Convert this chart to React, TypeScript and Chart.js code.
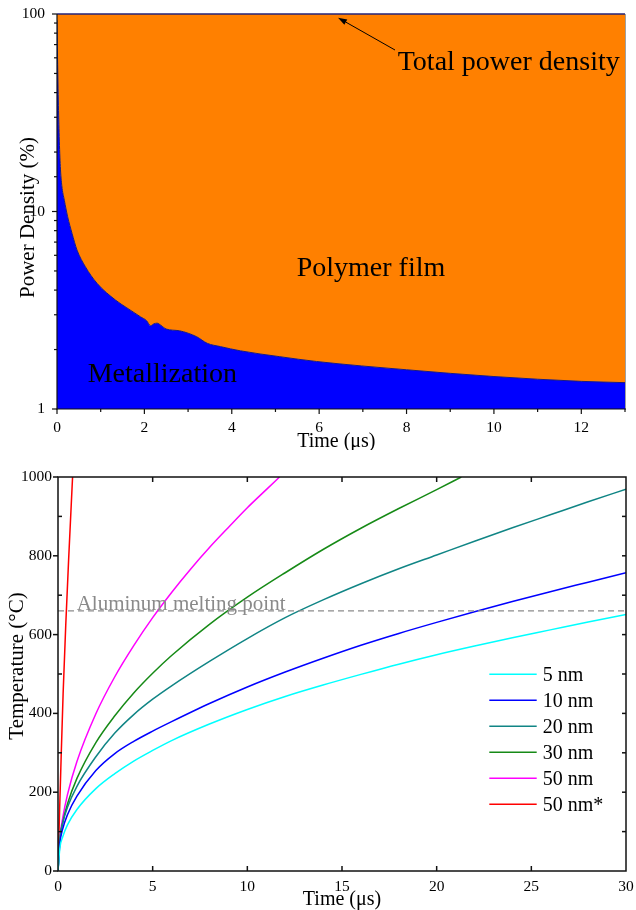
import React, { useEffect, useRef } from 'react';
import { Chart, registerables } from 'chart.js';

Chart.register(...registerables);

const SERIF = "'Liberation Serif', 'Times New Roman', serif";

// ---------- Top panel: power density (%) vs time (µs) ----------
const powerTime = [0, 0.01, 0.03, 0.05, 0.076, 0.11, 0.168, 0.244, 0.344, 0.458, 0.65, 0.916, 1.34, 1.6, 1.91, 2.05, 2.14, 2.22, 2.29, 2.38, 2.5, 2.8, 3.0, 3.2, 3.44, 3.74, 4.2, 5.1, 5.94, 8, 10, 12, 13];
const metallizationPower = [93, 65, 36.7, 24, 16.9, 13.5, 11.4, 9.4, 7.75, 6.38, 5.25, 4.33, 3.56, 3.25, 2.93, 2.8, 2.64, 2.7, 2.72, 2.65, 2.54, 2.49, 2.42, 2.32, 2.15, 2.07, 1.97, 1.84, 1.74, 1.58, 1.46, 1.38, 1.36];
const totalTime = [0, 13];
const totalPower = [100, 100];
const powerXMin = 0;
const powerXMax = 13;
const powerYMin = 1;
const powerYMax = 100;
const powerYLabels = [1, 10, 100];

// ---------- Bottom panel: temperature (°C) vs time (µs) ----------
const time5nm = [0, 0.1, 0.25, 0.5, 1, 2, 3, 4, 5, 6, 8, 10, 12, 14, 16, 18, 20, 22, 24, 26, 28, 30];
const temp5nm = [0, 59, 87, 117, 156, 209, 247, 279, 306, 331, 373, 410, 443, 472, 499, 525, 549, 571, 592, 612, 632, 651];
const time10nm = [0, 0.1, 0.25, 0.5, 1, 2, 3, 4, 5, 6, 8, 10, 12, 14, 16, 18, 20, 22, 24, 26, 28, 30];
const temp10nm = [0, 70, 107, 143, 190, 255, 298, 329, 355, 379, 425, 467, 505, 540, 573, 603, 631, 658, 684, 709, 733, 757];
const time20nm = [0, 0.1, 0.25, 0.5, 1, 2, 3, 4, 5, 6, 8, 10, 12, 14, 16, 18, 20, 22, 24, 26, 28, 30];
const temp20nm = [0, 82, 122, 162, 215, 290, 350, 397, 436, 470, 532, 590, 643, 688, 729, 767, 802, 837, 871, 904, 937, 969];
const time30nm = [0, 0.1, 0.25, 0.5, 1, 2, 3, 4, 5, 6, 8, 10, 12, 14, 16, 18, 20, 21.3];
const temp30nm = [0, 80, 123, 170, 235, 326, 394, 452, 502, 547, 626, 695, 757, 816, 870, 920, 968, 1000];
const time50nm = [0, 0.1, 0.25, 0.5, 1, 2, 3, 4, 5, 6, 7, 8, 9, 10, 11, 11.7];
const temp50nm = [0, 84, 135, 194, 278, 399, 493, 572, 643, 707, 766, 821, 872, 922, 968, 1000];
const time50nmStar = [0, 0.03, 0.06, 0.15, 0.27, 0.41, 0.56, 0.77];
const temp50nmStar = [0, 60, 112, 262, 450, 625, 789, 1000];
const meltingTime = [0, 30];
const meltingTemp = [660, 660];

const seriesLabels = ['5 nm', '10 nm', '20 nm', '30 nm', '50 nm', '50 nm*'];
const seriesColors = ['#00FFFF', '#0000FF', '#108585', '#168A16', '#FF00FF', '#FF0000'];
const seriesTimes = [time5nm, time10nm, time20nm, time30nm, time50nm, time50nmStar];
const seriesTemps = [temp5nm, temp10nm, temp20nm, temp30nm, temp50nm, temp50nmStar];

function pts(xs: number[], ys: number[]) {
  return xs.map((x, i) => ({ x, y: ys[i] }));
}

function seg(ctx: CanvasRenderingContext2D, x1: number, y1: number, x2: number, y2: number) {
  ctx.beginPath();
  ctx.moveTo(x1, y1);
  ctx.lineTo(x2, y2);
  ctx.stroke();
}

const noPadY = (w: number) => (s: any) => {
  s.width = w;
  s.paddingTop = 0;
  s.paddingBottom = 0;
};
const noPadX = (h: number) => (s: any) => {
  s.height = h;
  s.paddingLeft = 0;
  s.paddingRight = 0;
};

const topDecor = {
  id: 'topDecor',
  afterDatasetsDraw(chart: any) {
    const { ctx, chartArea: a, scales } = chart;
    const xs = scales.x;
    const ys = scales.y;
    ctx.save();
    ctx.strokeStyle = '#a0a0a0';
    ctx.lineWidth = 1;
    seg(ctx, a.right + 0.5, a.top, a.right + 0.5, a.bottom);
    ctx.strokeStyle = '#111';
    ctx.lineWidth = 1.2;
    seg(ctx, a.left, a.top, a.left, a.bottom + 0.6);
    seg(ctx, a.left - 0.6, a.bottom, a.right + 1, a.bottom);
    xs.ticks.forEach((t: any) => {
      const px = xs.getPixelForValue(t.value);
      const len = t.value % 2 === 0 ? 5 : 3;
      seg(ctx, px, a.bottom, px, a.bottom + len);
    });
    ys.ticks.forEach((t: any) => {
      const py = ys.getPixelForValue(t.value);
      const lg = Math.log10(t.value);
      const len = Math.abs(lg - Math.round(lg)) < 1e-9 ? 5 : 3;
      seg(ctx, a.left - len, py, a.left, py);
    });
    ctx.fillStyle = '#000';
    ctx.textAlign = 'left';
    ctx.textBaseline = 'alphabetic';
    ctx.font = `28px ${SERIF}`;
    ctx.fillText('Total power density', 397.7, 70);
    ctx.fillText('Polymer film', 296.7, 276);
    ctx.fillText('Metallization', 87.7, 382.3);
    const x1 = 395, y1 = 50, x2 = 338, y2 = 17.7;
    ctx.lineWidth = 1;
    ctx.strokeStyle = '#000';
    const ang = Math.atan2(y2 - y1, x2 - x1);
    const hl = 9, hw = 3;
    const bx = x2 - hl * Math.cos(ang), by = y2 - hl * Math.sin(ang);
    seg(ctx, x1, y1, bx, by);
    ctx.beginPath();
    ctx.moveTo(x2, y2);
    ctx.lineTo(bx + hw * Math.sin(ang), by - hw * Math.cos(ang));
    ctx.lineTo(bx - hw * Math.sin(ang), by + hw * Math.cos(ang));
    ctx.closePath();
    ctx.fill();
    ctx.font = `20px ${SERIF}`;
    ctx.textAlign = 'center';
    ctx.fillText('Time (μs)', 336.3, 446.5);
    ctx.save();
    ctx.translate(33.5, 217.5);
    ctx.rotate(-Math.PI / 2);
    ctx.font = `21px ${SERIF}`;
    ctx.fillText('Power Density (%)', 0, 0);
    ctx.restore();
    ctx.restore();
  },
};

const bottomDecor = {
  id: 'bottomDecor',
  afterDatasetsDraw(chart: any) {
    const { ctx, chartArea: a, scales } = chart;
    const xs = scales.x;
    const ys = scales.y;
    ctx.save();
    ctx.strokeStyle = '#111';
    ctx.lineWidth = 1.5;
    ctx.strokeRect(a.left, a.top, a.right - a.left, a.bottom - a.top);
    xs.ticks.forEach((t: any) => {
      if (t.value === 0 || t.value === 30) return;
      const px = xs.getPixelForValue(t.value);
      seg(ctx, px, a.bottom, px, a.bottom - 5);
      seg(ctx, px, a.top, px, a.top + 5);
    });
    ys.ticks.forEach((t: any) => {
      const py = ys.getPixelForValue(t.value);
      if (t.value % 200 === 0) {
        seg(ctx, a.left - 5, py, a.left, py);
      } else {
        seg(ctx, a.left, py, a.left + 4, py);
      }
      if (t.value !== 0 && t.value !== 1000) seg(ctx, a.right - 4, py, a.right, py);
    });
    const my = ys.getPixelForValue(meltingTemp[0]);
    ctx.fillStyle = '#8a8a8a';
    ctx.font = `21px ${SERIF}`;
    ctx.textAlign = 'left';
    ctx.textBaseline = 'alphabetic';
    ctx.fillText('Aluminum melting point', 76.7, my - 0.5);
    ctx.font = `20px ${SERIF}`;
    ctx.textBaseline = 'middle';
    ctx.fillStyle = '#000';
    seriesLabels.forEach((lab, i) => {
      const y = 224.3 + i * 26;
      ctx.strokeStyle = seriesColors[i];
      ctx.lineWidth = 1.5;
      seg(ctx, 489.3, y, 536.7, y);
      ctx.fillText(lab, 542.7, y + 1);
    });
    ctx.textBaseline = 'alphabetic';
    ctx.textAlign = 'center';
    ctx.font = `20px ${SERIF}`;
    ctx.fillText('Time (μs)', 342, 455);
    ctx.save();
    ctx.translate(22.7, 216);
    ctx.rotate(-Math.PI / 2);
    ctx.font = `21px ${SERIF}`;
    ctx.fillText('Temperature (°C)', 0, 0);
    ctx.restore();
    ctx.restore();
  },
};

function TopChart() {
  const ref = useRef<HTMLCanvasElement>(null);
  useEffect(() => {
    if (!ref.current) return;
    const chart = new Chart(ref.current, {
      type: 'line',
      data: {
        datasets: [
          {
            label: 'Total power density',
            data: pts(totalTime, totalPower),
            borderColor: '#23237a',
            borderWidth: 1.5,
            pointRadius: 0,
            fill: false,
            clip: false,
          } as any,
          {
            label: 'Metallization',
            data: pts(powerTime, metallizationPower),
            borderColor: '#1a1a80',
            borderWidth: 1,
            backgroundColor: '#0000FF',
            pointRadius: 0,
            fill: 'start',
            cubicInterpolationMode: 'monotone',
          },
          {
            label: 'Polymer film',
            data: pts(powerTime, metallizationPower),
            borderWidth: 0,
            borderColor: 'rgba(0,0,0,0)',
            backgroundColor: '#FF8000',
            pointRadius: 0,
            fill: 'end',
            cubicInterpolationMode: 'monotone',
          },
        ],
      },
      options: {
        responsive: false,
        animation: false,
        events: [],
        layout: { padding: { left: 0, right: 11, top: 14, bottom: 0 } },
        plugins: { legend: { display: false }, tooltip: { enabled: false } },
        scales: {
          x: {
            type: 'linear',
            min: powerXMin,
            max: powerXMax,
            grid: { display: false, drawTicks: false },
            border: { display: false },
            afterFit: noPadX(41),
            ticks: {
              stepSize: 1,
              autoSkip: false,
              maxRotation: 0,
              padding: 10,
              color: '#000',
              font: { family: SERIF, size: 15.5 },
              callback: (v: any) => (Number(v) % 2 === 0 ? String(v) : ''),
            },
          },
          y: {
            type: 'logarithmic',
            min: powerYMin,
            max: powerYMax,
            grid: { display: false, drawTicks: false },
            border: { display: false },
            afterFit: noPadY(57),
            ticks: {
              autoSkip: false,
              padding: 12,
              color: '#000',
              font: { family: SERIF, size: 15.5 },
              callback: (v: any) => (powerYLabels.includes(Number(v)) ? String(v) : ''),
            },
          },
        },
      },
      plugins: [topDecor],
    } as any);
    return () => chart.destroy();
  }, []);
  return <canvas ref={ref} width={636} height={450} style={{ display: 'block' }} />;
}

function BottomChart() {
  const ref = useRef<HTMLCanvasElement>(null);
  useEffect(() => {
    if (!ref.current) return;
    const datasets: any[] = [
      {
        label: '',
        data: pts(meltingTime, meltingTemp),
        borderColor: '#8c8c8c',
        borderWidth: 1.2,
        borderDash: [6, 4],
        pointRadius: 0,
        fill: false,
      },
    ];
    seriesLabels.forEach((lab, i) => {
      datasets.push({
        label: lab,
        data: pts(seriesTimes[i], seriesTemps[i]),
        borderColor: seriesColors[i],
        borderWidth: 1.5,
        pointRadius: 0,
        fill: false,
        cubicInterpolationMode: 'monotone',
      });
    });
    const chart = new Chart(ref.current, {
      type: 'line',
      data: { datasets },
      options: {
        responsive: false,
        animation: false,
        events: [],
        layout: { padding: { left: 0, right: 10, top: 27, bottom: 0 } },
        plugins: { legend: { display: false }, tooltip: { enabled: false } },
        scales: {
          x: {
            type: 'linear',
            min: 0,
            max: 30,
            grid: { display: false, drawTicks: false },
            border: { display: false },
            afterFit: noPadX(39),
            ticks: {
              stepSize: 5,
              autoSkip: false,
              maxRotation: 0,
              padding: 7,
              color: '#000',
              font: { family: SERIF, size: 15.5 },
            },
          },
          y: {
            type: 'linear',
            min: 0,
            max: 1000,
            grid: { display: false, drawTicks: false },
            border: { display: false },
            afterFit: noPadY(58),
            ticks: {
              stepSize: 100,
              autoSkip: false,
              padding: 6,
              color: '#000',
              font: { family: SERIF, size: 15.5 },
              callback: (v: any) => (Number(v) % 200 === 0 ? String(v) : ''),
            },
          },
        },
      },
      plugins: [bottomDecor],
    } as any);
    return () => chart.destroy();
  }, []);
  return <canvas ref={ref} width={636} height={460} style={{ display: 'block' }} />;
}

export default function App() {
  return (
    <div style={{ position: 'absolute', left: 0, top: 0, width: 636, height: 910, background: '#fff' }}>
      <TopChart />
      <BottomChart />
    </div>
  );
}
